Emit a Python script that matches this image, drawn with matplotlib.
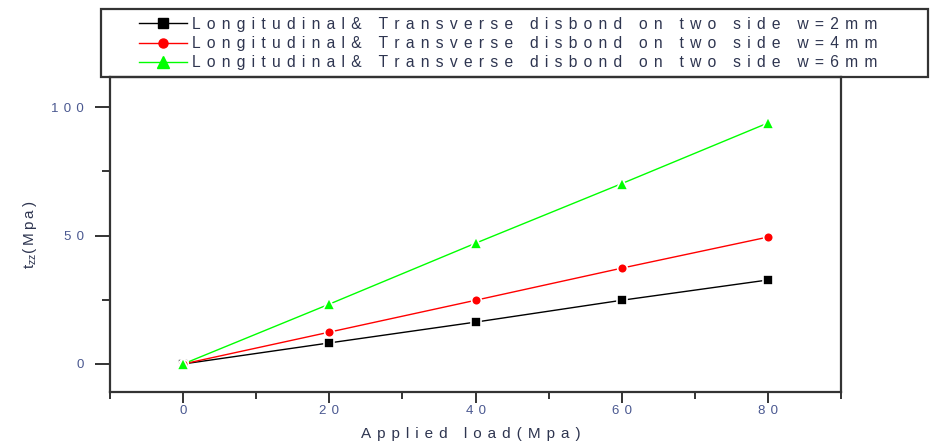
import matplotlib
import matplotlib.pyplot as plt
from matplotlib.patches import Rectangle
from matplotlib.ticker import FuncFormatter, MultipleLocator

matplotlib.use("agg")

load = [0, 20, 40, 60, 80]
tzz_w2 = [0, 8.2, 16.3, 24.8, 32.7]
tzz_w4 = [0, 12.4, 24.8, 37.3, 49.4]
tzz_w6 = [0, 23.3, 47.0, 70.2, 93.8]
labels = [
    "Longitudinal& Transverse disbond on two side w=2mm",
    "Longitudinal& Transverse disbond on two side w=4mm",
    "Longitudinal& Transverse disbond on two side w=6mm",
]

plt.rcParams["font.family"] = ["Liberation Sans", "DejaVu Sans"]
plt.rcParams["mathtext.fontset"] = "custom"
plt.rcParams["mathtext.rm"] = "Liberation Sans"
plt.rcParams["mathtext.it"] = "Liberation Sans"

SP = "\u2009"
TICK_C = "#4a5890"
TEXT_C = "#2e3550"
SPINE_C = "#333333"


def spaced(s, n=1):
    return (SP * n).join(s)


fig = plt.figure(figsize=(9.3, 4.44), dpi=100)
ax = fig.add_axes([110 / 930, 52 / 444, 731 / 930, 315 / 444])

series = [
    (tzz_w2, "black", "s", 7),
    (tzz_w4, "#ff0000", "o", 7),
    (tzz_w6, "#00ff00", "^", 9),
]
handles = []
for (vals, col, mk, ms), lab in zip(series, labels):
    ax.plot(load, vals, color=col, lw=1.0, zorder=2)
    ax.plot(load, vals, ls="none", marker=mk, ms=ms, mfc=col,
            mec="white", mew=1.2, zorder=3)
    h, = ax.plot([], [], color=col, lw=1.0, marker=mk, ms=ms - 0.5, mec=col)
    handles.append(h)

ax.set_xlim(-10, 90)
ax.set_ylim(-10.9, 111.7)
ax.xaxis.set_major_locator(MultipleLocator(20))
ax.xaxis.set_minor_locator(MultipleLocator(10))
ax.yaxis.set_major_locator(MultipleLocator(50))
ax.yaxis.set_minor_locator(MultipleLocator(25))
fmt = FuncFormatter(lambda v, p: spaced("%d" % v, 2))
ax.xaxis.set_major_formatter(fmt)
ax.yaxis.set_major_formatter(fmt)

for s in ax.spines.values():
    s.set_color(SPINE_C)
    s.set_linewidth(1.6)
ax.tick_params(which="major", direction="out", length=8, width=1.4,
               color=SPINE_C, labelcolor=TICK_C, labelsize=9.5, pad=1)
ax.tick_params(which="minor", direction="out", length=5, width=1.4,
               color=SPINE_C)
ax.tick_params(axis="y", which="major", length=11, pad=8)
ax.tick_params(axis="y", which="minor", length=6)

ax.set_xlabel(spaced("Applied load(Mpa)", 2), fontsize=11, color=TEXT_C)
ax.xaxis.set_label_coords(0.494, -0.111)
ax.set_ylabel(r"t$_{zz}$" + spaced("(Mpa)"), fontsize=11, color=TEXT_C)
ax.yaxis.set_label_coords(-0.097, 0.5)

# legend frame sits above the axes, wider than its contents
fig.patches.append(Rectangle((101 / 930, 367 / 444), 827 / 930, 68 / 444,
                             transform=fig.transFigure, fill=False,
                             ec=SPINE_C, lw=1.6))
leg = fig.legend(handles, [spaced(l, 2) for l in labels],
                 loc="upper left", bbox_to_anchor=(128 / 930, 438 / 444),
                 frameon=False, fontsize=11.25, handlelength=3.1,
                 handletextpad=0.3, labelspacing=0.26, borderpad=0.2)
for t in leg.get_texts():
    t.set_color(TEXT_C)

fig.savefig("out.png", dpi=100)
